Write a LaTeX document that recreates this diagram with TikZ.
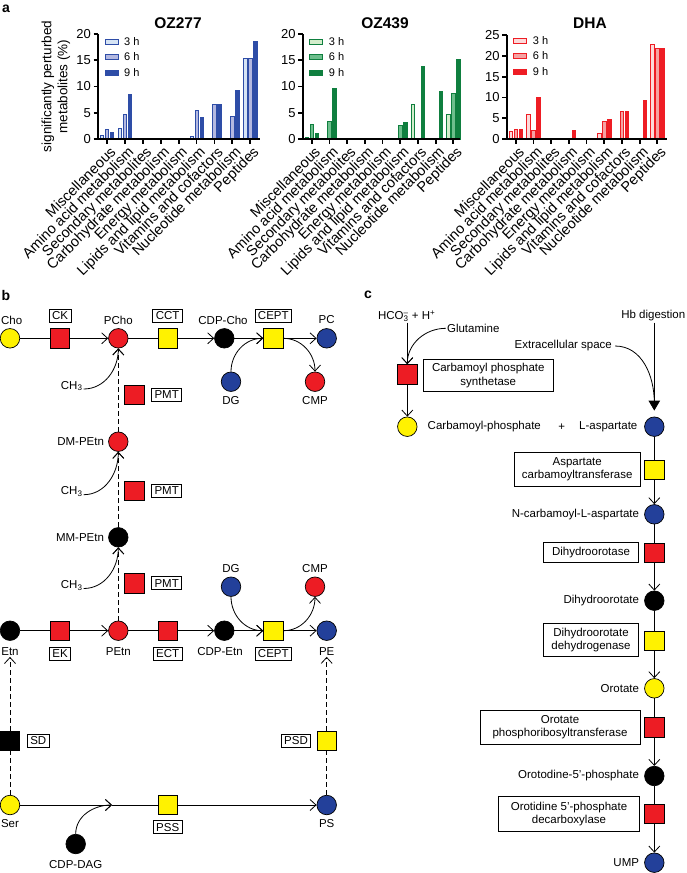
\documentclass[tikz,border=0pt]{standalone}
\usepackage{fontspec}
\setmainfont{Liberation Sans}
\usetikzlibrary{arrows.meta,calc}
\definecolor{bA}{HTML}{2E4DA7}
\definecolor{bB}{HTML}{B3B8E0}
\definecolor{bC}{HTML}{D6E4F5}
\definecolor{gA}{HTML}{0F7F3F}
\definecolor{gB}{HTML}{6DBE8C}
\definecolor{gC}{HTML}{D3EDCB}
\definecolor{rA}{HTML}{EE1D24}
\definecolor{rB}{HTML}{F5A3A3}
\definecolor{rC}{HTML}{FCDADA}
\definecolor{cyel}{HTML}{FFF200}
\definecolor{cred}{HTML}{ED1C24}
\definecolor{cblue}{HTML}{23409A}
\newcommand\myfs[2]{\fontsize{#1}{#2}\selectfont}
\newcommand\pbar[3]{\draw[#1] ({#2-1.7},139) rectangle ({#2+1.7},{139-#3});}
\newcommand\grp[5]{%
\ifdim #3pt>0pt \pbar{#1L}{#2-5}{#3}\fi
\ifdim #4pt>0pt \pbar{#1M}{#2}{#4}\fi
\ifdim #5pt>0pt \pbar{#1D}{#2+5}{#5}\fi}
\tikzset{
 bL/.style={fill=bC,draw=bA,line width=0.6pt},
 bM/.style={fill=bB,draw=bA,line width=0.6pt},
 bD/.style={fill=bA,draw=bA,line width=0.6pt},
 gL/.style={fill=gC,draw=gA,line width=0.6pt},
 gM/.style={fill=gB,draw=gA,line width=0.6pt},
 gD/.style={fill=gA,draw=gA,line width=0.6pt},
 rL/.style={fill=rC,draw=rA,line width=0.6pt},
 rM/.style={fill=rB,draw=rA,line width=0.6pt},
 rD/.style={fill=rA,draw=rA,line width=0.6pt},
 axisln/.style={line width=1.8pt},
 ytl/.style={inner sep=1pt,font=\myfs{13}{15}},
 catl/.style={inner sep=1pt,rotate=45,anchor=north east,font=\myfs{14.5}{17}},
 legl/.style={inner sep=1pt,font=\myfs{11}{13}},
 ttl/.style={font=\bfseries\myfs{15.5}{18}},
 pnl/.style={font=\bfseries\myfs{14}{16}},
 met/.style={circle,draw=black,line width=0.7pt,minimum size=19.5pt,inner sep=0pt},
 enzy/.style={rectangle,draw=black,line width=0.7pt,minimum size=19.5pt,inner sep=0pt},
 tbox/.style={draw=black,line width=0.9pt,inner xsep=3pt,inner ysep=0pt,minimum height=13pt,font=\myfs{11.5}{13.5},align=center},
 lbl/.style={inner sep=1pt,font=\myfs{11.5}{13.5}},
 conn/.style={line width=0.8pt},
 arr/.style={conn,-{Straight Barb[length=6pt,width=11pt,line width=0.8pt]}},
 tri/.style={conn,-{Triangle[length=10pt,width=11.5pt]},shorten >=6pt},
 dsh/.style={dash pattern=on 5pt off 3pt},
}
\begin{document}
\begin{tikzpicture}[x=1pt,y=-1pt]
\useasboundingbox (0,0) rectangle (687,873);
% ================= panel a =================
\node[pnl] (pa) at (6,9) {a};
% ---- OZ277
\node[ttl] (t1) at (178,23) {OZ277};
\node[rotate=90,align=center,font=\myfs{13.5}{16}] (ytitle) at (56,86.5) {significantly perturbed\\metabolites (\%)};
\grp{b}{107}{3.3}{9.3}{6.7}
\grp{b}{124.9}{11}{24.3}{45}
\grp{b}{196.5}{2.3}{29}{21.7}
\grp{b}{214.4}{0}{35}{35}
\grp{b}{232.3}{0}{22.7}{48.3}
\grp{b}{250.2}{80.7}{80.7}{97.3}
\draw[axisln] (98,34) -- (98,139) -- (260,139);
\foreach \v/\yy in {0/139,5/112.75,10/86.5,15/60.25,20/34}{\draw[axisln] (93.5,\yy) -- (98,\yy); \node[ytl,anchor=east] (ya\v) at (92,\yy) {\v};}
\foreach \n [count=\k from 0] in {Miscellaneous,Amino acid metabolism,Secondary metabolites,Carbohydrate metabolism,Energy metabolism,Lipids and lipid metabolism,Vitamins and cofactors,Nucleotide metabolism,Peptides}{
 \draw[axisln] ({107+17.9*\k},139) -- ({107+17.9*\k},144);
 \node[catl] (ca\k) at ({107+17.9*\k+2},144) {\n};}
\foreach \lab/\st/\yy [count=\i] in {3 h/bL/41.5,6 h/bM/57,9 h/bD/72.5}{\draw[\st] (105,{\yy-2.7}) rectangle (118,{\yy+2.7}); \node[legl,anchor=west] (la\i) at (123,\yy) {\lab};}
% ---- OZ439
\node[ttl] (t2) at (385,23) {OZ439};
\grp{g}{311.7}{1.5}{15}{6}
\grp{g}{329.4}{0}{17.3}{51}
\grp{g}{400.2}{1.2}{14}{16.7}
\grp{g}{417.9}{35}{0}{72.7}
\grp{g}{435.6}{0}{0}{47.7}
\grp{g}{453.3}{25}{46}{80}
\draw[axisln] (302.7,34) -- (302.7,139) -- (460,139);
\foreach \v/\yy in {0/139,5/112.75,10/86.5,15/60.25,20/34}{\draw[axisln] (298.2,\yy) -- (302.7,\yy); \node[ytl,anchor=east] (yb\v) at (296.7,\yy) {\v};}
\foreach \n [count=\k from 0] in {Miscellaneous,Amino acid metabolism,Secondary metabolites,Carbohydrate metabolism,Energy metabolism,Lipids and lipid metabolism,Vitamins and cofactors,Nucleotide metabolism,Peptides}{
 \draw[axisln] ({311.7+17.7*\k},139) -- ({311.7+17.7*\k},144);
 \node[catl] (cb\k) at ({311.7+17.7*\k+2},144) {\n};}
\foreach \lab/\st/\yy [count=\i] in {3 h/gL/41.5,6 h/gM/57,9 h/gD/72.5}{\draw[\st] (309.7,{\yy-2.7}) rectangle (322.7,{\yy+2.7}); \node[legl,anchor=west] (lb\i) at (327.7,\yy) {\lab};}
% ---- DHA
\node[ttl] (t3) at (590,23) {DHA};
\grp{r}{515.7}{8}{9.7}{10}
\grp{r}{533.4}{25}{9}{41.3}
\grp{r}{568.8}{0}{0}{9}
\grp{r}{604.2}{5.7}{17.3}{19.7}
\grp{r}{621.9}{0}{28}{28}
\grp{r}{639.6}{0}{0}{38.3}
\grp{r}{657.3}{95}{90.7}{90.7}
\draw[axisln] (506.7,35) -- (506.7,139) -- (666.7,139);
\foreach \v/\yy in {0/139,5/118.2,10/97.4,15/76.6,20/55.8,25/35}{\draw[axisln] (502.2,\yy) -- (506.7,\yy); \node[ytl,anchor=east] (yc\v) at (500.7,\yy) {\v};}
\foreach \n [count=\k from 0] in {Miscellaneous,Amino acid metabolism,Secondary metabolites,Carbohydrate metabolism,Energy metabolism,Lipids and lipid metabolism,Vitamins and cofactors,Nucleotide metabolism,Peptides}{
 \draw[axisln] ({515.7+17.7*\k},139) -- ({515.7+17.7*\k},144);
 \node[catl] (cc\k) at ({515.7+17.7*\k+2},144) {\n};}
\foreach \lab/\st/\yy [count=\i] in {3 h/rL/40.5,6 h/rM/56,9 h/rD/71.5}{\draw[\st] (513.7,{\yy-2.7}) rectangle (526.7,{\yy+2.7}); \node[legl,anchor=west] (lc\i) at (531.7,\yy) {\lab};}
% ================= panel b =================
\node[pnl] (pb) at (6,295) {b};
% top row
\node[met,fill=cyel] (cho) at (10,338.3) {};
\node[enzy,fill=cred] (ck) at (60,338.3) {};
\node[met,fill=cred] (pcho) at (118.3,338.3) {};
\node[enzy,fill=cyel] (cct) at (167.7,338.3) {};
\node[met,fill=black] (cdpc) at (224.3,338.3) {};
\node[enzy,fill=cyel] (cepta) at (273.3,338.3) {};
\node[met,fill=cblue] (pc) at (326.7,338.3) {};
\node[met,fill=cblue] (dga) at (231,381.7) {};
\node[met,fill=cred] (cmpa) at (315,381.7) {};
\node[lbl] (chol) at (11.7,320) {Cho};
\node[tbox] (ckb) at (60,315.7) {CK};
\node[lbl] (pchol) at (118.3,320) {PCho};
\node[tbox] (cctb) at (167.7,315.7) {CCT};
\node[lbl] (cdpcl) at (223,320) {CDP-Cho};
\node[tbox] (ceptab) at (273.3,315.7) {CEPT};
\node[lbl] (pcl) at (326.7,320) {PC};
\node[lbl] (dgal) at (231,400.5) {DG};
\node[lbl] (cmpal) at (315,400.5) {CMP};
\draw[conn] (cho) -- (ck); \draw[arr] (ck) -- (pcho);
\draw[conn] (pcho) -- (cct); \draw[arr] (cct) -- (cdpc);
\draw[arr] (cdpc) -- (cepta);
\draw[arr] (cepta) -- (pc);
\draw[arr] (dga.north) to[out=90,in=180] (cepta.west);
\draw[arr] (cepta.east) to[out=0,in=90] (cmpa.north);
% vertical methylation
\node[met,fill=cred] (dmp) at (118.3,441.7) {};
\node[met,fill=black] (mmp) at (118.3,537.3) {};
\node[lbl,anchor=east] (dmpl) at ([xshift=-3pt]dmp.west) {DM-PEtn};
\node[lbl,anchor=east] (mmpl) at ([xshift=-3pt]mmp.west) {MM-PEtn};
\node[lbl] (ch3a) at (71.7,386) {CH\textsubscript{3}};
\node[lbl] (ch3b) at (71.7,491.7) {CH\textsubscript{3}};
\node[lbl] (ch3c) at (71.7,585.5) {CH\textsubscript{3}};
\node[enzy,fill=cred] (pmtas) at (134.3,395) {};
\node[tbox] (pmtab) at (166.7,395) {PMT};
\node[enzy,fill=cred] (pmtbs) at (134.3,490.7) {};
\node[tbox] (pmtbb) at (166.7,490.7) {PMT};
\node[enzy,fill=cred] (pmtcs) at (134.3,583.3) {};
\node[tbox] (pmtcb) at (166.7,583.3) {PMT};
% Etn row
\node[met,fill=black] (etn) at (10,630.7) {};
\node[enzy,fill=cred] (ek) at (60,630.7) {};
\node[met,fill=cred] (petn) at (118.3,630.7) {};
\node[enzy,fill=cred] (ect) at (167.7,630.7) {};
\node[met,fill=black] (cdpe) at (224.3,630.7) {};
\node[enzy,fill=cyel] (ceptb) at (273.3,630.7) {};
\node[met,fill=cblue] (pe) at (326.7,630.7) {};
\node[met,fill=cblue] (dgb) at (231,586.7) {};
\node[met,fill=cred] (cmpb) at (315,586.7) {};
\node[lbl] (dgbl) at (231,568.3) {DG};
\node[lbl] (cmpbl) at (315,568.3) {CMP};
\node[lbl] (etnl) at (10,651.7) {Etn};
\node[tbox] (ekb) at (60,654) {EK};
\node[lbl] (petnl) at (118.3,651.7) {PEtn};
\node[tbox] (ectb) at (167.7,654) {ECT};
\node[lbl] (cdpel) at (220,651.7) {CDP-Etn};
\node[tbox] (ceptbb) at (273.3,654) {CEPT};
\node[lbl] (pel) at (326.7,651.7) {PE};
\draw[arr,dsh] (dmp) -- (pcho);
\draw[arr,dsh] (mmp) -- (dmp);
\draw[arr,dsh] (petn) -- (mmp);
\draw[arr] ([yshift=-3pt]ch3a.east) to[out=0,in=-90] (pcho.south);
\draw[arr] ([yshift=-3pt]ch3b.east) to[out=0,in=-90] (dmp.south);
\draw[arr] ([yshift=-3pt]ch3c.east) to[out=0,in=-90] (mmp.south);
\draw[conn] (etn) -- (ek); \draw[arr] (ek) -- (petn);
\draw[conn] (petn) -- (ect); \draw[arr] (ect) -- (cdpe);
\draw[arr] (cdpe) -- (ceptb);
\draw[arr] (ceptb) -- (pe);
\draw[arr] (dgb.south) to[out=-90,in=180] (ceptb.west);
\draw[arr] (ceptb.east) to[out=0,in=-90] (cmpb.south);
% bottom
\node[met,fill=cyel] (ser) at (10,805) {};
\node[enzy,fill=black] (sd) at (10,740.7) {};
\node[tbox] (sdb) at (38.3,740.7) {SD};
\node[met,fill=cblue] (ps) at (326.7,805) {};
\node[enzy,fill=cyel] (psd) at (326.7,740.7) {};
\node[tbox] (psdb) at (296,740.7) {PSD};
\node[enzy,fill=cyel] (pss) at (167.7,805) {};
\node[tbox] (pssb) at (167.7,827.3) {PSS};
\node[met,fill=black] (cdpdag) at (75.7,844) {};
\node[lbl] (cdpdagl) at (75.7,864.3) {CDP-DAG};
\node[lbl] (serl) at (10,824) {Ser};
\node[lbl] (psl) at (326.7,824) {PS};
\coordinate (join) at (112,805);
\draw[conn,dsh] (ser) -- (sd); \draw[arr,dsh] (sd) -- (etnl.south);
\draw[conn,dsh] (ps) -- (psd); \draw[arr,dsh] (psd) -- (pel.south);
\draw[arr] (ser) -- (join); \draw[conn] (join) -- (pss); \draw[arr] (pss) -- (ps);
\draw[arr] (cdpdag.north) to[out=90,in=180] (join);
% ================= panel c =================
\node[pnl] (pcn) at (368,295) {c};
\node[lbl] (hco) at (406.7,316) {HCO\rlap{\textsubscript{3}}\textsuperscript{–}\ + H\textsuperscript{+}};
\node[lbl] (glu) at (473.3,328.3) {Glutamine};
\node[enzy,fill=cred] (cps) at (407.3,374.3) {};
\node[tbox,minimum width=130.7pt,minimum height=31.7pt] (cpsb) at (488.3,375.7) {Carbamoyl phosphate\\synthetase};
\node[met,fill=cyel] (cp) at (407.3,426.7) {};
\node[lbl] (cpl) at (484.3,426.7) {Carbamoyl-phosphate};
\node[lbl] (plus) at (561.7,426.7) {+};
\node[lbl] (laspl) at (608.3,426.7) {L-aspartate};
\node[met,fill=cblue] (lasp) at (654.3,426.7) {};
\node[lbl] (hb) at (653.3,316) {Hb digestion};
\node[lbl] (ext) at (563.3,346) {Extracellular space};
\draw[arr] (cps |- hco.south) -- (cps);
\draw[arr] (glu.west) to[out=180,in=90] (cps.north);
\draw[arr] (cps) -- (cp);
\draw[conn] ([xshift=2pt]ext.east) to[out=0,in=90] ([yshift=14pt]lasp.north);
\draw[tri] (lasp |- hb.south) -- (lasp);
\node[enzy,fill=cyel] (act) at (654.3,470) {};
\node[tbox,minimum width=125.7pt,minimum height=34pt] (actb) at (577.2,469) {Aspartate\\carbamoyltransferase};
\node[met,fill=cblue] (nca) at (654.3,514.3) {};
\node[lbl,anchor=east] (ncal) at ([xshift=-4pt]nca.west) {N-carbamoyl-L-aspartate};
\node[enzy,fill=cred] (dho) at (654.3,552.7) {};
\node[tbox,minimum width=95.7pt,minimum height=20pt] (dhob) at (591,552.7) {Dihydroorotase};
\node[met,fill=black] (dhoa) at (654.3,600.7) {};
\node[lbl,anchor=east] (dhoal) at ([xshift=-4pt]dhoa.west) {Dihydroorotate};
\node[enzy,fill=cyel] (dhod) at (654.3,640.7) {};
\node[tbox,minimum width=95.7pt,minimum height=32.7pt] (dhodb) at (591,640) {Dihydroorotate\\dehydrogenase};
\node[met,fill=cyel] (oro) at (654.3,688.3) {};
\node[lbl,anchor=east] (orol) at ([xshift=-4pt]oro.west) {Orotate};
\node[enzy,fill=cred] (oprt) at (654.3,727.3) {};
\node[tbox,minimum width=160pt,minimum height=34.3pt] (oprtb) at (560,727.3) {Orotate\\phosphoribosyltransferase};
\node[met,fill=black] (omp) at (654.3,776) {};
\node[lbl,anchor=east] (ompl) at ([xshift=-4pt]omp.west) {Orotodine-5'-phosphate};
\node[enzy,fill=cred] (odc) at (654.3,814) {};
\node[tbox,minimum width=141.7pt,minimum height=34.3pt] (odcb) at (569,814) {Orotidine 5'-phosphate\\decarboxylase};
\node[met,fill=cblue] (ump) at (654.3,862.7) {};
\node[lbl,anchor=east] (umpl) at ([xshift=-4pt]ump.west) {UMP};
\draw[conn] (lasp) -- (act); \draw[arr] (act) -- (nca);
\draw[conn] (nca) -- (dho); \draw[arr] (dho) -- (dhoa);
\draw[conn] (dhoa) -- (dhod); \draw[arr] (dhod) -- (oro);
\draw[conn] (oro) -- (oprt); \draw[arr] (oprt) -- (omp);
\draw[conn] (omp) -- (odc); \draw[arr] (odc) -- (ump);
\end{tikzpicture}
\end{document}
